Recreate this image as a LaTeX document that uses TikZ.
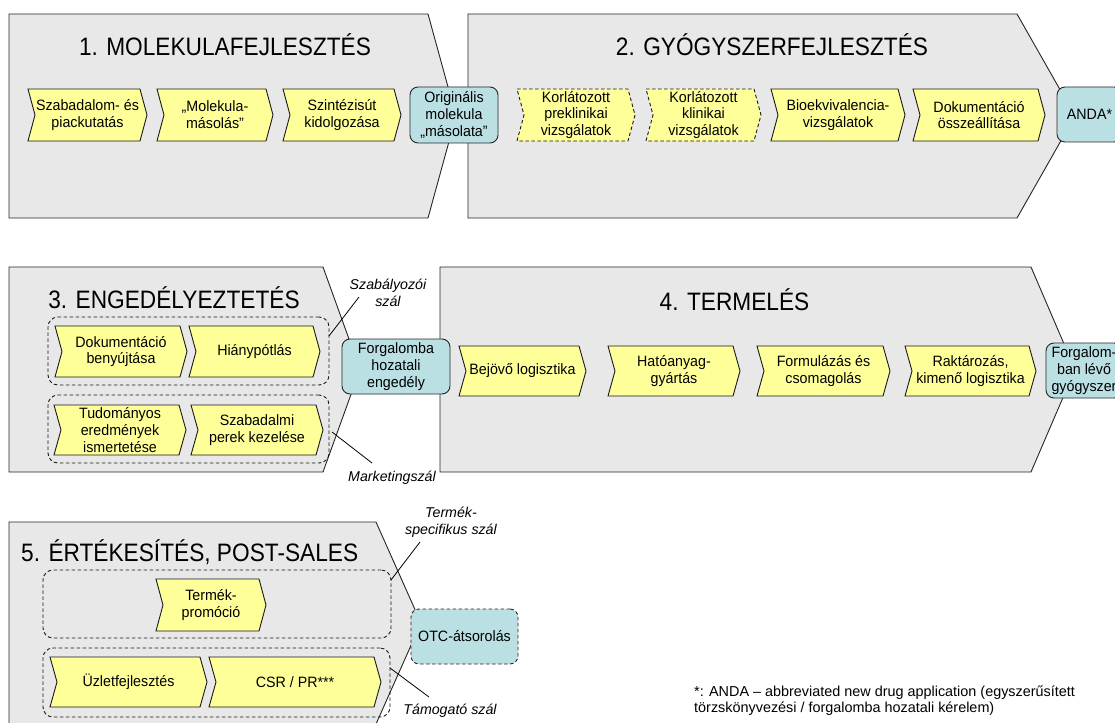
\documentclass[tikz,border=0pt]{standalone}
\usepackage{fontspec}
\setmainfont{Liberation Sans}
\newfontfamily\titlefont[FakeStretch=0.9]{Liberation Sans}
\newfontfamily\boxfont[FakeStretch=0.95]{Liberation Sans}
\definecolor{phasegray}{RGB}{232,232,232}
\definecolor{chevyellow}{RGB}{255,255,153}
\definecolor{msblue}{RGB}{186,224,228}

% activity chevron: [extra style]{name}{x left}{x tip}{y centre}{half height}{text}
\newcommand\stepchev[7][]{%
  \draw[chevbox,#1] (#3,{#5-#6}) -- ({#4-7},{#5-#6}) -- (#4,#5) -- ({#4-7},{#5+#6})
        -- (#3,{#5+#6}) -- ({#3+7},#5) -- cycle;
  \node[ctext] (#2) at ({(#3+#4)/2},#5) {#7};}

\begin{document}
\begin{tikzpicture}[x=1pt,y=-1pt,
  phase/.style={fill=phasegray, draw=black!85, line width=0.9pt, line join=miter},
  chevbox/.style={fill=chevyellow, draw=black!90, line width=0.9pt},
  ctext/.style={inner sep=0pt, align=center, font=\boxfont\fontsize{15}{16.8}\selectfont},
  milestone/.style={rectangle, rounded corners=8pt, fill=msblue, draw=black!85,
    line width=0.9pt, align=center, inner sep=1pt, font=\boxfont\fontsize{15}{16.8}\selectfont},
  group/.style={rectangle, rounded corners=10pt, draw=black!90, line width=0.9pt,
    dash pattern=on 3.5pt off 2.5pt},
  title/.style={inner sep=0pt, font=\titlefont\fontsize{25.2}{28}\selectfont},
  threadlabel/.style={inner sep=0pt, align=center, font=\fontsize{14.2}{17}\selectfont\itshape},
  leader/.style={draw=black, line width=0.8pt}
]
\useasboundingbox (0,0) rectangle (1115,722);
\clip (0,0) rectangle (1115,722);

% main phases
\draw[phase] (9,14) -- (428,14) -- (456,116) -- (428,218) -- (9,218) -- cycle;
\draw[phase] (468,14) -- (1017,14) -- (1075,116) -- (1017,218) -- (468,218) -- cycle;
\draw[phase] (9,267) -- (323,267) -- (360,369.5) -- (323,472) -- (9,472) -- cycle;
\draw[phase] (440,267) -- (1031,267) -- (1075,369.5) -- (1031,472) -- (440,472) -- cycle;
\draw[phase] (9,522) -- (376,522) -- (421,623) -- (376,724) -- (9,724) -- cycle;

% phase titles
\node[title] (t1) at (225,45) {1. MOLEKULAFEJLESZTÉS};
\node[title] (t2) at (772,45) {2. GYÓGYSZERFEJLESZTÉS};
\node[title] (t3) at (174,298) {3. ENGEDÉLYEZTETÉS};
\node[title] (t4) at (734.5,300) {4. TERMELÉS};
\node[title, anchor=west] (t5) at (21,552) {5. ÉRTÉKESÍTÉS, POST-SALES};

% thread groups
\node[group, minimum width=281pt, minimum height=68pt] (g31) at (188.5,351) {};
\node[group, minimum width=281pt, minimum height=68pt] (g32) at (188.5,429) {};
\node[group, minimum width=348pt, minimum height=68pt] (g51) at (217,604) {};
\node[group, minimum width=347pt, minimum height=69pt] (g52) at (216.5,682.5) {};

% 1. molecule development
\stepchev{c11}{28}{147}{115}{26}{Szabadalom- és\\piackutatás}
\stepchev{c12}{157}{273}{115}{26}{„Molekula-\\másolás”}
\stepchev{c13}{283}{401}{115}{26}{Szintézisút\\kidolgozása}
% 2. drug development
\stepchev[dash pattern=on 3.5pt off 2.5pt]{c21}{517}{635}{115}{26}{Korlátozott\\preklinikai\\vizsgálatok}
\stepchev[dash pattern=on 3.5pt off 2.5pt]{c22}{646}{761}{115}{26}{Korlátozott\\klinikai\\vizsgálatok}
\stepchev{c23}{771}{905}{115}{26}{Bioekvivalencia-\\vizsgálatok}
\stepchev{c24}{913}{1045}{115}{26}{Dokumentáció\\összeállítása}
% 3. registration
\stepchev{c31}{55}{187}{351.5}{25.5}{Dokumentáció\\benyújtása}
\stepchev{c32}{189}{320}{351.5}{25.5}{Hiánypótlás}
\stepchev{c33}{54}{186}{430}{25}{Tudományos\\eredmények\\ismertetése}
\stepchev{c34}{191}{323}{430}{25}{Szabadalmi\\perek kezelése}
% 4. production
\stepchev{c41}{459}{586}{371}{25}{Bejövő logisztika}
\stepchev{c42}{608}{740}{371}{25}{Hatóanyag-\\gyártás}
\stepchev{c43}{757}{890}{371}{25}{Formulázás és\\csomagolás}
\stepchev{c44}{905}{1036}{371}{25}{Raktározás,\\kimenő logisztika}
% 5. sales
\stepchev{c51}{156}{266}{605}{26}{Termék-\\promóció}
\stepchev{c52}{50}{207}{682}{25}{Üzletfejlesztés}
\stepchev{c53}{209}{381}{682}{25}{CSR / PR***}

% milestones
\node[milestone, minimum width=88pt, minimum height=56pt] (m1) at (454,115) {Originális\\molekula\\„másolata”};
\node[milestone, minimum width=65pt, minimum height=55pt] (m2) at (1089.5,114.5) {ANDA*};
\node[milestone, minimum width=108pt, minimum height=55pt] (m3) at (396,366.5) {Forgalomba\\hozatali\\engedély};
\node[milestone, minimum width=76pt, minimum height=55pt] (m4) at (1084,370.5) {Forgalom-\\ban lévő\\gyógyszer};
\node[milestone, dash pattern=on 3.5pt off 2.5pt, minimum width=107pt, minimum height=55pt] (m5) at (464.5,636.5) {OTC-átsorolás};

% thread labels and their leaders
\node[threadlabel] (l1) at (388,292.5) {Szabályozói\\szál};
\node[threadlabel] (l2) at (392,478) {Marketingszál};
\node[threadlabel] (l3) at (451,522) {Termék-\\specifikus szál};
\node[threadlabel] (l4) at (450,711) {Támogató szál};
\coordinate (l1a) at (359,297);  \coordinate (l1b) at (329,336);
\coordinate (l2a) at (372,463);  \coordinate (l2b) at (332,432);
\coordinate (l3a) at (420,542);  \coordinate (l3b) at (391,580);
\coordinate (l4a) at (429,697);  \coordinate (l4b) at (390,668);
\draw[leader] (l1a) -- (l1b);
\draw[leader] (l2a) -- (l2b);
\draw[leader] (l3a) -- (l3b);
\draw[leader] (l4a) -- (l4b);

% footnote
\node[anchor=north west, inner sep=0pt, align=left, font=\fontsize{14.4}{16}\selectfont] (fn) at (694,686)
  {*: ANDA – abbreviated new drug application (egyszerűsített\\törzskönyvezési / forgalomba hozatali kérelem)};
\end{tikzpicture}
\end{document}
